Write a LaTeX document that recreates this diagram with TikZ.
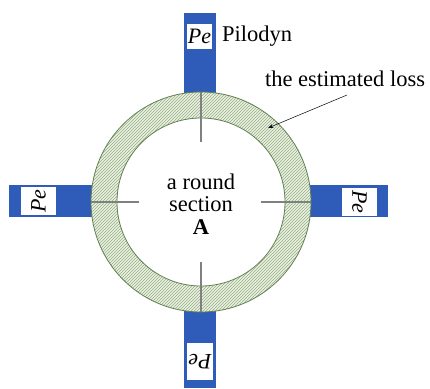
\documentclass[tikz,border=0pt]{standalone}
\usepackage{fontspec}
\setmainfont{Liberation Serif}
\usetikzlibrary{arrows.meta,patterns,positioning}
\definecolor{stripblue}{RGB}{47,92,184}
\definecolor{ringline}{RGB}{98,128,84}
\definecolor{ringfill}{RGB}{234,241,226}
\definecolor{hatchgreen}{RGB}{150,175,130}

\begin{document}
\begin{tikzpicture}[x=1pt,y=-1pt,>=Stealth,
  strip/.style={fill=stripblue,draw=none,inner sep=0pt},
  pebox/.style={fill=white,draw=none,inner sep=0pt,font=\fontsize{22}{22}\selectfont\itshape},
  tick/.style={draw=gray,line width=1.4pt},
  lbl/.style={inner sep=0pt,font=\fontsize{22.5}{22.5}\selectfont}]
  \useasboundingbox (0,0) rectangle (430,388);

  % blue strips of the pilodyn
  \node[strip,minimum width=32pt,minimum height=88pt] (stripN) at (199.5,57) {};
  \node[strip,minimum width=32pt,minimum height=88pt] (stripS) at (199.5,344) {};
  \node[strip,minimum width=92pt,minimum height=32pt] (stripW) at (55,201) {};
  \node[strip,minimum width=88pt,minimum height=32pt] (stripE) at (344,201) {};

  % ring with the estimated loss
  \coordinate (O) at (201,202);
  \fill[ringfill,even odd rule] (O) circle[radius=110] (O) circle[radius=84];
  \fill[pattern=north east lines,pattern color=hatchgreen,even odd rule] (O) circle[radius=110] (O) circle[radius=84];
  \draw[ringline,line width=0.8pt] (O) circle[radius=110];
  \draw[ringline,line width=0.8pt] (O) circle[radius=84];

  % cross marks
  \draw[tick] ([xshift=-110pt]O) -- ([xshift=-62pt]O);
  \draw[tick] ([xshift=60pt]O) -- ([xshift=110pt]O);
  \draw[tick] ([yshift=110pt]O) -- ([yshift=60pt]O);
  \draw[tick] ([yshift=-60pt]O) -- ([yshift=-110pt]O);

  % labels in the strips
  \node[pebox,minimum width=25pt,minimum height=25pt] (peN) at (199.5,36.5) {Pe};
  \node[pebox,minimum width=28pt,minimum height=35pt,rotate=90] (peW) at (38.5,201) {Pe};
  \node[pebox,minimum width=28pt,minimum height=35pt,rotate=-90] (peE) at (359.5,202) {Pe};
  \node[pebox,minimum width=26pt,minimum height=37pt,rotate=180] (peS) at (200,361.5) {Pe};

  \node[lbl,anchor=west] (pilodyn) at (222,36) {Pilodyn};
  \node[lbl] (loss) at (345,79) {the estimated loss};
  \coordinate (lossend) at (268,128);
  \draw[->,line width=0.5pt] (347,95) -- (lossend);

  \node[lbl,align=center] (sec) at (201,204) {a round\\section\\\textbf{A}};
\end{tikzpicture}
\end{document}
